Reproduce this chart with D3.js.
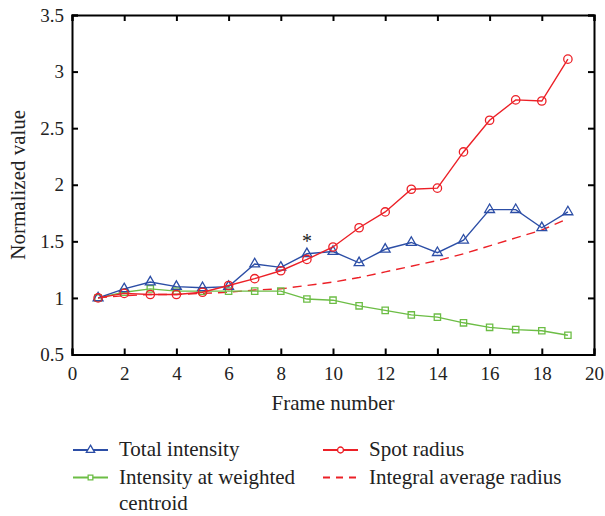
<!DOCTYPE html>
<html><head><meta charset="utf-8">
<script src="https://cdn.jsdelivr.net/npm/d3@7"></script>
<style>body{margin:0;background:#fff}</style>
</head><body>
<svg id="c" width="605" height="516"></svg>
<script>
const frames = [1,2,3,4,5,6,7,8,9,10,11,12,13,14,15,16,17,18,19];
const totalIntensity = [1.0,1.08,1.14,1.10,1.09,1.10,1.30,1.27,1.39,1.41,1.31,1.43,1.49,1.40,1.51,1.78,1.78,1.62,1.76];
const spotRadius = [1.0,1.04,1.03,1.03,1.05,1.11,1.17,1.24,1.34,1.45,1.62,1.76,1.96,1.97,2.29,2.57,2.75,2.74,3.11];
const centroidIntensity = [1.0,1.05,1.08,1.06,1.06,1.06,1.06,1.06,0.99,0.98,0.93,0.89,0.85,0.83,0.78,0.74,0.72,0.71,0.67];
const integralRadius = [1.0,1.02,1.03,1.03,1.04,1.05,1.07,1.08,1.11,1.14,1.18,1.23,1.28,1.33,1.39,1.46,1.53,1.60,1.70];
const xTicks = [0,2,4,6,8,10,12,14,16,18,20];
const yTicks = [0.5,1,1.5,2,2.5,3,3.5];
const star = {x: 9, y: 1.52, text: "*"};

const blue = "#2c4ea6", red = "#ec2027", green = "#6cbd45";
const font = "'Liberation Serif','DejaVu Serif',serif";
const svg = d3.select("#c");
const L=72, R=594, T=15, B=354.5;
const x = d3.scaleLinear().domain([0,20]).range([L,R]);
const y = d3.scaleLinear().domain([0.5,3.5]).range([B,T]);

const tl = 6;
svg.append("g").attr("transform",`translate(0,${B})`)
  .call(d3.axisBottom(x).tickValues(xTicks).tickSize(-tl).tickPadding(tl+6).tickFormat(d3.format("d")));
svg.append("g").attr("transform",`translate(0,${T})`)
  .call(d3.axisTop(x).tickValues(xTicks).tickSize(-tl).tickFormat(""));
svg.append("g").attr("transform",`translate(${L},0)`)
  .call(d3.axisLeft(y).tickValues(yTicks).tickSize(-tl).tickPadding(tl+2).tickFormat(d=>String(d)));
svg.append("g").attr("transform",`translate(${R},0)`)
  .call(d3.axisRight(y).tickValues(yTicks).tickSize(-tl).tickFormat(""));
svg.selectAll(".domain").attr("stroke","#000").attr("stroke-width",2);
svg.selectAll(".tick line").attr("stroke","#000").attr("stroke-width",2);
svg.selectAll(".tick text").attr("font-family",font).attr("font-size",19).attr("fill","#222");

const line = d3.line().x((d,i)=>x(frames[i])).y(d=>y(d));

function series(vals,color,sym,opts={}){
  svg.append("path").attr("d",line(vals)).attr("fill","none").attr("stroke",color)
    .attr("stroke-width",1.4).attr("stroke-dasharray",opts.dash||null);
  if(sym){
    svg.append("g").selectAll("path").data(vals).join("path")
      .attr("transform",(d,i)=>`translate(${x(frames[i])},${y(d)})`)
      .attr("d",d3.symbol().type(sym).size(opts.size||50))
      .attr("fill","none").attr("stroke",color).attr("stroke-width",1.3);
  }
}
series(integralRadius,red,null,{dash:"9,6"});
series(centroidIntensity,green,d3.symbolSquare,{size:40});
series(totalIntensity,blue,d3.symbolTriangle,{size:42});
series(spotRadius,red,d3.symbolCircle,{size:55});

svg.append("text").attr("x",x(star.x)).attr("y",y(star.y)+9).attr("text-anchor","middle")
  .attr("font-family",font).attr("font-size",20).attr("fill","#222").text(star.text);

svg.append("text").attr("x",(L+R)/2).attr("y",410).attr("text-anchor","middle")
  .attr("font-family",font).attr("font-size",21).attr("fill","#222").text("Frame number");
svg.append("text").attr("transform",`translate(25,${(T+B)/2}) rotate(-90)`).attr("text-anchor","middle")
  .attr("font-family",font).attr("font-size",21).attr("fill","#222").text("Normalized value");

const leg = [
  {lx:73, ly:450, color:blue, sym:d3.symbolTriangle, size:30, lines:["Total intensity"]},
  {lx:73, ly:477.5, color:green, sym:d3.symbolSquare, size:22, lines:["Intensity at weighted","centroid"]},
  {lx:323, ly:450, color:red, sym:d3.symbolCircle, size:28, lines:["Spot radius"]},
  {lx:323, ly:477.5, color:red, sym:null, dash:"7,6", lines:["Integral average radius"]}
];
leg.forEach(l=>{
  svg.append("line").attr("x1",l.lx).attr("x2",l.lx+35).attr("y1",l.ly).attr("y2",l.ly)
    .attr("stroke",l.color).attr("stroke-width",2).attr("stroke-dasharray",l.dash||null);
  if(l.sym) svg.append("path").attr("transform",`translate(${l.lx+17.5},${l.ly})`)
    .attr("d",d3.symbol().type(l.sym).size(l.size)).attr("fill","#fff").attr("stroke",l.color).attr("stroke-width",1.3);
  l.lines.forEach((t,i)=>svg.append("text").attr("x",l.lx+46).attr("y",l.ly+6+i*26)
    .attr("font-family",font).attr("font-size",21).attr("fill","#222").text(t));
});
</script>
</body></html>
